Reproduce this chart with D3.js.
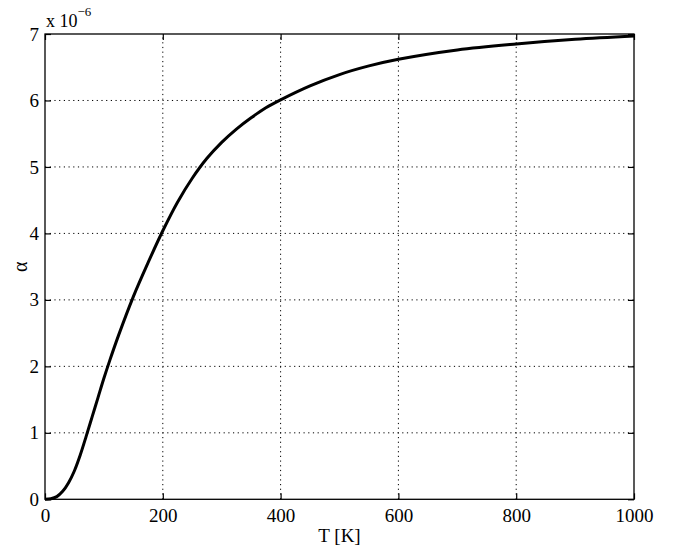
<!DOCTYPE html>
<html><head><meta charset="utf-8">
<script src="https://cdn.jsdelivr.net/npm/d3@7"></script>
<style>
body{margin:0;background:#fff;}
svg{display:block;}
text{font-family:"Liberation Serif","Times New Roman",serif;fill:#000;}
</style></head>
<body><div id="chart"></div>
<script>
const temps = [0, 10, 20, 30, 40, 50, 60, 70, 80, 90, 100, 110, 125, 150, 175, 200, 225, 250, 275, 300, 325, 350, 375, 400, 450, 500, 550, 600, 700, 800, 900, 1000];
const alphaVals = [0, 0.008, 0.04, 0.12, 0.25, 0.43, 0.67, 0.95, 1.24, 1.53, 1.82, 2.09, 2.47, 3.05, 3.56, 4.04, 4.47, 4.83, 5.13, 5.37, 5.57, 5.74, 5.89, 6.01, 6.22, 6.39, 6.52, 6.62, 6.76, 6.85, 6.92, 6.97];
const xTicks = [0, 200, 400, 600, 800, 1000];
const yTicks = [0, 1, 2, 3, 4, 5, 6, 7];

const W = 673, H = 550;
const m = {left: 45, right: 673 - 634, top: 34, bottom: 550 - 499.3};
const svg = d3.select("#chart").append("svg").attr("width", W).attr("height", H);

const x = d3.scaleLinear().domain([0, 1000]).range([m.left, W - m.right]);
const y = d3.scaleLinear().domain([0, 7]).range([H - m.bottom, m.top]);

const pw = x(1000) - x(0), ph = y(0) - y(7);

// grid
const grid = svg.append("g").attr("stroke", "#000").attr("stroke-width", 1).attr("stroke-dasharray", "1.2,3.5");
xTicks.slice(1, -1).forEach(t => grid.append("line").attr("x1", x(t)).attr("x2", x(t)).attr("y1", y(0)).attr("y2", y(7)));
yTicks.slice(1, -1).forEach(t => grid.append("line").attr("x1", x(0)).attr("x2", x(1000)).attr("y1", y(t)).attr("y2", y(t)));

// axes with inward ticks
const fs = "19px";
const xb = svg.append("g").attr("transform", `translate(0,${y(0)})`)
  .call(d3.axisBottom(x).tickValues(xTicks).tickSize(-6).tickPadding(9).tickFormat(d3.format("d")));
const xt = svg.append("g").attr("transform", `translate(0,${y(7)})`)
  .call(d3.axisTop(x).tickValues(xTicks).tickSize(-6).tickFormat(""));
const yl = svg.append("g").attr("transform", `translate(${x(0)},0)`)
  .call(d3.axisLeft(y).tickValues(yTicks).tickSize(-6).tickPadding(6).tickFormat(d3.format("d")));
const yr = svg.append("g").attr("transform", `translate(${x(1000)},0)`)
  .call(d3.axisRight(y).tickValues(yTicks).tickSize(-6).tickFormat(""));
[xb, xt, yl, yr].forEach(g => {
  g.select(".domain").remove();
  g.selectAll("line").attr("stroke", "#000").attr("stroke-width", 1.2);
  g.selectAll("text").style("font-size", fs).style("font-family", '"Liberation Serif",serif').attr("fill", "#000");
});

// box
svg.append("rect").attr("x", x(0)).attr("y", y(7)).attr("width", pw).attr("height", ph)
  .attr("fill", "none").attr("stroke", "#000").attr("stroke-width", 1.3);

// curve
const data = temps.map((t, i) => [t, alphaVals[i]]);
svg.append("path").datum(data)
  .attr("fill", "none").attr("stroke", "#000").attr("stroke-width", 3).attr("stroke-linejoin", "round")
  .attr("d", d3.line().x(d => x(d[0])).y(d => y(d[1])).curve(d3.curveCatmullRom.alpha(0.5)));

// exponent label
const ex = svg.append("text").attr("x", x(0) + 1).attr("y", 27).style("font-size", "18px");
ex.append("tspan").text("x 10");
ex.append("tspan").attr("dy", -11).style("font-size", "13px").text("\u22126");

// axis labels
svg.append("text").attr("x", (x(0) + x(1000)) / 2).attr("y", 542).attr("text-anchor", "middle")
  .style("font-size", "19px").text("T [K]");
svg.append("text").attr("transform", `translate(27,${(y(0) + y(7)) / 2}) rotate(-90)`)
  .attr("text-anchor", "middle").style("font-size", "20px").text("\u03b1");
</script>
</body></html>
